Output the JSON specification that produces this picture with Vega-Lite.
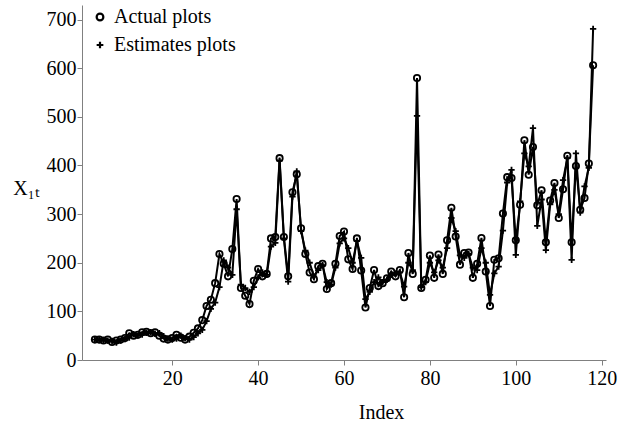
{
  "$schema": "https://vega.github.io/schema/vega-lite/v6.json",
  "width": 524,
  "height": 355,
  "autosize": {"type": "none"},
  "padding": {"left": 82, "top": 5, "right": 13, "bottom": 65},
  "background": "white",
  "config": {
    "view": {"stroke": null},
    "font": "Liberation Serif",
    "axis": {"grid": false, "domainColor": "#808080", "tickColor": "#808080", "tickSize": 5, "labelFont": "Liberation Serif", "labelFontSize": 20, "labelColor": "black", "titleFont": "Liberation Serif", "titleFontSize": 20, "titleFontWeight": "normal", "titleColor": "black"}
  },
  "data": {"values": [
    {"i":2,"a":42,"e":42},{"i":3,"a":42,"e":41},{"i":4,"a":40,"e":41},{"i":5,"a":42,"e":40},{"i":6,"a":37,"e":39},
    {"i":7,"a":40,"e":36},{"i":8,"a":42,"e":40},{"i":9,"a":45,"e":43},{"i":10,"a":55,"e":46},{"i":11,"a":50,"e":53},
    {"i":12,"a":52,"e":50},{"i":13,"a":57,"e":52},{"i":14,"a":58,"e":56},{"i":15,"a":55,"e":57},{"i":16,"a":57,"e":54},
    {"i":17,"a":50,"e":55},{"i":18,"a":44,"e":49},{"i":19,"a":42,"e":44},{"i":20,"a":45,"e":42},{"i":21,"a":52,"e":44},
    {"i":22,"a":46,"e":50},{"i":23,"a":42,"e":45},{"i":24,"a":48,"e":42},{"i":25,"a":56,"e":47},{"i":26,"a":65,"e":55},
    {"i":27,"a":82,"e":62},{"i":28,"a":111,"e":80},{"i":29,"a":124,"e":105},{"i":30,"a":158,"e":118},{"i":31,"a":218,"e":150},
    {"i":32,"a":198,"e":205},{"i":33,"a":172,"e":190},{"i":34,"a":228,"e":175},{"i":35,"a":331,"e":310},{"i":36,"a":148,"e":155},
    {"i":37,"a":132,"e":148},{"i":38,"a":115,"e":140},{"i":39,"a":163,"e":150},{"i":40,"a":187,"e":170},{"i":41,"a":172,"e":180},
    {"i":42,"a":177,"e":175},{"i":43,"a":250,"e":233},{"i":44,"a":253,"e":241},{"i":45,"a":415,"e":410},{"i":46,"a":253,"e":250},
    {"i":47,"a":172,"e":161},{"i":48,"a":345,"e":336},{"i":49,"a":382,"e":388},{"i":50,"a":271,"e":265},{"i":51,"a":218,"e":225},
    {"i":52,"a":180,"e":200},{"i":53,"a":166,"e":172},{"i":54,"a":193,"e":185},{"i":55,"a":198,"e":195},{"i":56,"a":146,"e":160},
    {"i":57,"a":158,"e":155},{"i":58,"a":198,"e":190},{"i":59,"a":255,"e":240},{"i":60,"a":264,"e":250},{"i":61,"a":207,"e":230},
    {"i":62,"a":187,"e":200},{"i":63,"a":250,"e":245},{"i":64,"a":184,"e":210},{"i":65,"a":108,"e":125},{"i":66,"a":148,"e":140},
    {"i":67,"a":185,"e":160},{"i":68,"a":152,"e":170},{"i":69,"a":158,"e":160},{"i":70,"a":168,"e":165},{"i":71,"a":182,"e":175},
    {"i":72,"a":172,"e":178},{"i":73,"a":185,"e":180},{"i":74,"a":129,"e":151},{"i":75,"a":220,"e":200},{"i":76,"a":177,"e":185},
    {"i":77,"a":580,"e":502},{"i":78,"a":148,"e":150},{"i":79,"a":165,"e":160},{"i":80,"a":215,"e":200},{"i":81,"a":169,"e":180},
    {"i":82,"a":217,"e":205},{"i":83,"a":177,"e":190},{"i":84,"a":246,"e":230},{"i":85,"a":313,"e":292},{"i":86,"a":254,"e":265},
    {"i":87,"a":196,"e":215},{"i":88,"a":220,"e":210},{"i":89,"a":221,"e":218},{"i":90,"a":169,"e":190},{"i":91,"a":198,"e":185},
    {"i":92,"a":251,"e":230},{"i":93,"a":182,"e":200},{"i":94,"a":111,"e":134},{"i":95,"a":206,"e":178},{"i":96,"a":209,"e":192},
    {"i":97,"a":301,"e":266},{"i":98,"a":376,"e":365},{"i":99,"a":374,"e":391},{"i":100,"a":246,"e":216},{"i":101,"a":319,"e":326},
    {"i":102,"a":452,"e":425},{"i":103,"a":381,"e":398},{"i":104,"a":438,"e":477},{"i":105,"a":318,"e":276},{"i":106,"a":349,"e":330},
    {"i":107,"a":242,"e":226},{"i":108,"a":328,"e":320},{"i":109,"a":364,"e":350},{"i":110,"a":292,"e":300},{"i":111,"a":351,"e":370},
    {"i":112,"a":420,"e":415},{"i":113,"a":242,"e":206},{"i":114,"a":399,"e":425},{"i":115,"a":309,"e":303},{"i":116,"a":333,"e":357},
    {"i":117,"a":404,"e":395},{"i":118,"a":606,"e":681}
  ]},
  "transform": [{"fold": ["a", "e"], "as": ["s", "v"]}],
  "encoding": {
    "x": {"field": "i", "type": "quantitative", "scale": {"domain": [-1, 121], "nice": false, "zero": false},
      "axis": {"values": [20, 40, 60, 80, 100, 120], "labelPadding": 3, "title": "Index", "titleX": 299, "titleY": 58, "titleAlign": "center", "titleBaseline": "alphabetic", "labelFlush": false}},
    "y": {"field": "v", "type": "quantitative", "scale": {"domain": [0, 730], "nice": false},
      "axis": {"values": [0, 100, 200, 300, 400, 500, 600, 700], "labelPadding": 1, "title": "X₁ₜ", "titleAngle": 0, "titleX": -56, "titleY": 183, "titleAlign": "center", "titleBaseline": "middle"}}
  },
  "layer": [
    {"mark": {"type": "line", "color": "black", "strokeWidth": 2},
     "encoding": {"detail": {"field": "s"}}},
    {"mark": {"type": "point", "filled": false, "color": "black", "strokeWidth": 1.8, "size": 40, "opacity": 1},
     "encoding": {"shape": {"field": "s", "type": "nominal",
       "scale": {"domain": ["a", "e"], "range": ["circle", "M-1,0L1,0M0,-1L0,1"]},
       "legend": {"orient": "none", "legendX": 8, "legendY": 2, "title": null, "padding": 0,
         "labelExpr": "datum.label == 'a' ? 'Actual plots' : 'Estimates plots'",
         "labelFont": "Liberation Serif", "labelFontSize": 20, "labelColor": "black", "labelOffset": 4,
         "rowPadding": 8, "symbolStrokeColor": "black", "symbolStrokeWidth": 2.2, "symbolSize": 45, "symbolFillColor": "transparent"}}}}
  ]
}
